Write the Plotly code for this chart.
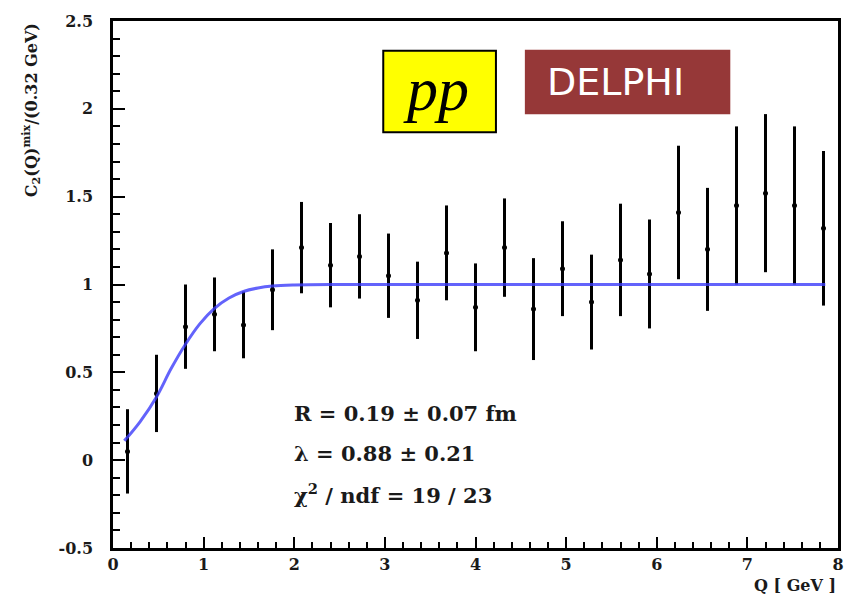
import plotly.graph_objects as go

# Data
q_bins = [0.16, 0.48, 0.80, 1.12, 1.44, 1.76, 2.08, 2.40, 2.72, 3.04, 3.36, 3.68, 4.00,
          4.32, 4.64, 4.96, 5.28, 5.60, 5.92, 6.24, 6.56, 6.88, 7.20, 7.52, 7.84]
c2_values = [0.05, 0.38, 0.76, 0.83, 0.77, 0.97, 1.21, 1.11, 1.16, 1.05, 0.91, 1.18, 0.87,
             1.21, 0.86, 1.09, 0.90, 1.14, 1.06, 1.41, 1.20, 1.45, 1.52, 1.45, 1.32]
c2_errors = [0.24, 0.22, 0.24, 0.21, 0.19, 0.23, 0.26, 0.24, 0.24, 0.24, 0.22, 0.27, 0.25,
             0.28, 0.29, 0.27, 0.27, 0.32, 0.31, 0.38, 0.35, 0.45, 0.45, 0.45, 0.44]

fit_q = [0.125, 0.30, 0.48, 0.64, 0.80, 0.96, 1.12, 1.28, 1.44, 1.60, 1.76, 2.00, 2.40, 3.0, 5.0, 7.86]
fit_c2 = [0.11, 0.22, 0.36, 0.52, 0.66, 0.777, 0.864, 0.923, 0.96, 0.98, 0.991, 0.997, 1.0, 1.0, 1.0, 1.0]

x_ticks = [0, 1, 2, 3, 4, 5, 6, 7, 8]
y_ticks = [-0.5, 0, 0.5, 1, 1.5, 2, 2.5]
y_tick_labels = ["-0.5", "0", "0.5", "1", "1.5", "2", "2.5"]

fit_text = ["R = 0.19 ± 0.07 fm", "λ = 0.88 ± 0.21", "χ<sup>2</sup> / ndf = 19 / 23"]

serif = "DejaVu Serif"
ink = "#1a1a1a"

fig = go.Figure()
fig.add_trace(go.Scatter(
    x=q_bins, y=c2_values, mode="markers",
    marker=dict(color="black", size=5, symbol="circle"),
    error_y=dict(type="data", array=c2_errors, visible=True, color="black", thickness=3, width=0),
    showlegend=False,
))
fig.add_trace(go.Scatter(
    x=fit_q, y=fit_c2, mode="lines",
    line=dict(color="rgba(60,60,250,0.8)", width=3, shape="spline", smoothing=1.0),
    showlegend=False,
))

axis_common = dict(
    showline=True, linecolor="black", linewidth=2.5, mirror=True,
    ticks="inside", tickcolor="black", tickwidth=2,
    showgrid=False, zeroline=False,
    tickfont=dict(family=serif, size=16, color=ink, weight="bold"),
)

fig.update_xaxes(
    range=[0, 8], tickvals=x_ticks, ticklen=11,
    minor=dict(dtick=0.2, ticks="inside", ticklen=6, tickwidth=2, tickcolor="black", showgrid=False),
    **axis_common,
)
fig.update_yaxes(
    range=[-0.5, 2.5], tickvals=y_ticks, ticktext=y_tick_labels, ticklen=12,
    ticklabelstandoff=14,
    minor=dict(dtick=0.1, ticks="inside", ticklen=7, tickwidth=2, tickcolor="black", showgrid=False),
    **axis_common,
)

annotations = [
    dict(text="C<sub>2</sub>(Q)<sup>mix</sup>/(0.32 GeV)", xref="paper", yref="paper",
         x=(31 - 113) / 727, y=1.0, xanchor="center", yanchor="top", textangle=-90, showarrow=False,
         font=dict(family=serif, size=16, color=ink, weight="bold")),
    dict(text="Q [ GeV ]", xref="paper", yref="paper", x=1.0, y=-(574 - 548) / 531, xanchor="right",
         yanchor="top", showarrow=False,
         font=dict(family=serif, size=16, color=ink, weight="bold")),
    dict(text="<i>pp</i>", xref="paper", yref="paper", x=(437 - 113) / 727, y=(548 - 86) / 531,
         xanchor="center", yanchor="middle", showarrow=False,
         font=dict(family="Liberation Serif", size=62, color="black")),
    dict(text="DELPHI", xref="paper", yref="paper", x=(546 - 113) / 727, y=(548 - 78) / 531,
         xanchor="left", yanchor="middle", showarrow=False,
         font=dict(family="DejaVu Sans", size=38, color="white")),
]
for i, t in enumerate(fit_text):
    annotations.append(dict(
        text=t, xref="paper", yref="paper", x=(292 - 113) / 727, y=(548 - (412 + 41 * i)) / 531,
        xanchor="left", yanchor="middle", showarrow=False,
        font=dict(family=serif, size=21, color=ink, weight="bold")))

shapes = [
    dict(type="rect", xref="paper", yref="paper",
         x0=(384 - 113) / 727, x1=(497 - 113) / 727,
         y0=(548 - 129) / 531, y1=(548 - 47) / 531,
         fillcolor="#ffff00", line=dict(color="black", width=2), layer="above"),
    dict(type="rect", xref="paper", yref="paper",
         x0=(526 - 113) / 727, x1=(732 - 113) / 727,
         y0=(548 - 111) / 531, y1=(548 - 46) / 531,
         fillcolor="#963838", line=dict(width=0), layer="above"),
]

fig.update_layout(
    width=856, height=601,
    margin=dict(l=113, r=16, t=17, b=53),
    paper_bgcolor="white", plot_bgcolor="white",
    annotations=annotations, shapes=shapes,
)

fig.write_html("out.html")
